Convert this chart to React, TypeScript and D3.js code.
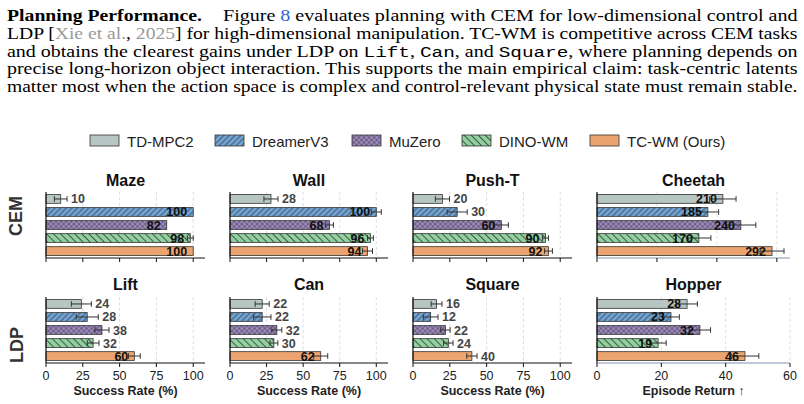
import React, { useRef } from "react";
import * as d3 from "d3";

// ---------- data ----------
const methods = ["TD-MPC2", "DreamerV3", "MuZero", "DINO-WM", "TC-WM (Ours)"];
const methodColors = ["#b7c6c2", "#74a9da", "#a692c4", "#92d0a0", "#eba46f"];
const methodHatch = ["none", "fwd", "cross", "back", "none"];

const cemTasks = ["Maze", "Wall", "Push-T", "Cheetah"];
const ldpTasks = ["Lift", "Can", "Square", "Hopper"];

const mazeValues = [10, 100, 82, 98, 100];
const mazeErrors = [4.3, 0, 0, 2, 0];
const wallValues = [28, 100, 68, 96, 94];
const wallErrors = [4.8, 3.4, 2.7, 2, 3.4];
const pushTValues = [20, 30, 60, 90, 92];
const pushTErrors = [4.8, 6.8, 4.8, 2, 2.7];
const cheetahValues = [210, 185, 240, 170, 292];
const cheetahErrors = [22, 18, 25, 20, 20];

const liftValues = [24, 28, 38, 32, 60];
const liftErrors = [6.8, 7.5, 4.8, 4, 4];
const canValues = [22, 22, 32, 30, 62];
const canErrors = [4.8, 6, 3.4, 2.7, 4.8];
const squareValues = [16, 12, 22, 24, 40];
const squareErrors = [3.7, 5, 3.2, 3.2, 3.5];
const hopperValues = [28, 23, 32, 19, 46];
const hopperErrors = [3.2, 2.6, 3.3, 2.5, 4.3];

const successTicks = [0, 25, 50, 75, 100];
const cheetahTicks = [0, 100, 200, 300];
const hopperTicks = [0, 20, 40, 60];
const successLabel = "Success Rate (%)";
const returnLabel = "Episode Return ↑";
const rowLabels = ["CEM", "LDP"];

// paragraph text (segments: [text, style])
type Seg = [string, string];
const paraLine1Head = "Planning Performance.";
const paraLines: Seg[][] = [
  [["Figure ", "n"], ["8", "link"], [" evaluates planning with CEM for low-dimensional control and", "n"]],
  [["LDP [", "n"], ["Xie et al.", "cite"], [", ", "n"], ["2025", "cite"], ["] for high-dimensional manipulation. TC-WM is competitive across CEM tasks", "n"]],
  [["and obtains the clearest gains under LDP on ", "n"], ["Lift", "mono"], [", ", "n"], ["Can", "mono"], [", and ", "n"], ["Square", "mono"], [", where planning depends on", "n"]],
  [["precise long-horizon object interaction. This supports the main empirical claim: task-centric latents", "n"]],
  [["matter most when the action space is complex and control-relevant physical state must remain stable.", "n"]],
];

// ---------- layout ----------
const colX = [46, 230, 413, 597];
const colW = [159, 158, 159, 193];
const rowTop = [192, 297];
const rowH = 66;
const titleY = [186, 289.5];
const legendX = [90, 215, 352, 462, 590];

const SANS = "'Liberation Sans', Arial, sans-serif";
const SERIF = "'Liberation Serif', 'Times New Roman', serif";
const MONO = "'Liberation Mono', monospace";

type Panel = {
  title: string;
  values: number[];
  errors: number[];
  max: number;
  ticks: number[];
  insideMin: number;
  xLabel: string;
  altSpine: boolean;
};

const panels: Panel[][] = [
  [
    { title: cemTasks[0], values: mazeValues, errors: mazeErrors, max: 108, ticks: successTicks, insideMin: 50, xLabel: successLabel, altSpine: false },
    { title: cemTasks[1], values: wallValues, errors: wallErrors, max: 108, ticks: successTicks, insideMin: 50, xLabel: successLabel, altSpine: false },
    { title: cemTasks[2], values: pushTValues, errors: pushTErrors, max: 108, ticks: successTicks, insideMin: 50, xLabel: successLabel, altSpine: false },
    { title: cemTasks[3], values: cheetahValues, errors: cheetahErrors, max: 322, ticks: cheetahTicks, insideMin: 0, xLabel: returnLabel, altSpine: true },
  ],
  [
    { title: ldpTasks[0], values: liftValues, errors: liftErrors, max: 108, ticks: successTicks, insideMin: 50, xLabel: successLabel, altSpine: false },
    { title: ldpTasks[1], values: canValues, errors: canErrors, max: 108, ticks: successTicks, insideMin: 50, xLabel: successLabel, altSpine: false },
    { title: ldpTasks[2], values: squareValues, errors: squareErrors, max: 108, ticks: successTicks, insideMin: 50, xLabel: successLabel, altSpine: false },
    { title: ldpTasks[3], values: hopperValues, errors: hopperErrors, max: 60, ticks: hopperTicks, insideMin: 0, xLabel: returnLabel, altSpine: true },
  ],
];

function segStyle(s: string): any {
  if (s === "link") return { fill: "#2b62d9" };
  if (s === "cite") return { fill: "#9a9a9a" };
  if (s === "mono") return { fontFamily: MONO, fontSize: 15.5 };
  return {};
}

function BarRect({ x, y, w, h, i }: { x: number; y: number; w: number; h: number; i: number }) {
  const hatch = methodHatch[i];
  return (
    <g>
      <rect x={x} y={y} width={Math.max(0, w)} height={h} fill={methodColors[i]} />
      {hatch !== "none" && <rect x={x} y={y} width={Math.max(0, w)} height={h} fill={`url(#hatch-${hatch})`} />}
      <rect x={x} y={y} width={Math.max(0, w)} height={h} fill="none" stroke="#333" strokeWidth={0.8} />
    </g>
  );
}

function PanelView({ p, r, c }: { p: Panel; r: number; c: number }) {
  const x0 = colX[c];
  const w = colW[c];
  const top = rowTop[r];
  const bottom = top + rowH;
  const x = d3.scaleLinear().domain([0, p.max]).range([x0, x0 + w]);
  const y = d3.scaleBand<string>().domain(methods).range([top, bottom]).paddingInner(0.33).paddingOuter(0.2);
  const bw = y.bandwidth();
  return (
    <g>
      <text x={x0 + w / 2} y={titleY[r]} textAnchor="middle" fontFamily={SANS} fontWeight="bold" fontSize={16} fill="#111">
        {p.title}
      </text>
      {p.ticks.filter((t) => t > 0).map((t) => (
        <line key={t} x1={x(t)} x2={x(t)} y1={top} y2={bottom} stroke="#d4d4d4" strokeWidth={0.8} strokeDasharray="3,2.5" />
      ))}
      {methods.map((m, i) => {
        const v = p.values[i];
        const e = p.errors[i];
        const yy = y(m)!;
        const cy = yy + bw / 2;
        const inside = v >= p.insideMin;
        const errEnd = x(v + e);
        return (
          <g key={m}>
            <BarRect x={x(0)} y={yy} w={x(v) - x(0)} h={bw} i={i} />
            {e > 0 && (
              <g stroke="#333" strokeWidth={1}>
                <line x1={x(v - e)} x2={x(v + e)} y1={cy} y2={cy} />
                <line x1={x(v - e)} x2={x(v - e)} y1={cy - 2.8} y2={cy + 2.8} />
                <line x1={x(v + e)} x2={x(v + e)} y1={cy - 2.8} y2={cy + 2.8} />
              </g>
            )}
            {inside ? (
              <text x={x(v) - 6} y={cy + 4.5} textAnchor="end" fontFamily={SANS} fontWeight="bold" fontSize={12.5} fill="#111">
                {v}
              </text>
            ) : (
              <text x={errEnd + 4} y={cy + 4.5} textAnchor="start" fontFamily={SANS} fontWeight="bold" fontSize={12.5} fill="#444">
                {v}
              </text>
            )}
          </g>
        );
      })}
      <line x1={x0} x2={x0} y1={top} y2={bottom} stroke="#111" strokeWidth={1.2} />
      <line x1={x0} x2={x0 + w} y1={bottom} y2={bottom} stroke={p.altSpine ? "#7f92ad" : "#111"} strokeWidth={1.2} />
      {p.ticks.map((t) => (
        <line key={t} x1={x(t)} x2={x(t)} y1={bottom} y2={bottom + 4} stroke="#111" strokeWidth={1} />
      ))}
      {r === 1 &&
        p.ticks.map((t) => (
          <text key={t} x={x(t)} y={380} textAnchor="middle" fontFamily={SANS} fontSize={12.5} fill="#222">
            {t}
          </text>
        ))}
      {r === 1 && (
        <text x={x0 + w / 2} y={395} textAnchor="middle" fontFamily={SANS} fontWeight="bold" fontSize={12.5} fill="#222">
          {p.xLabel}
        </text>
      )}
    </g>
  );
}

export default function App() {
  const ref = useRef<SVGSVGElement>(null);

  const lineStartX = [223, 7, 7, 7, 7];
  const lineEndX = 797.5;
  const baselines = [20.7, 38.6, 56.5, 74.4, 92.3];

  return (
    <svg
      ref={ref}
      width={804}
      height={404}
      style={{ position: "absolute", left: 0, top: 0, display: "block", background: "#fff" }}
    >
      <defs>
        <pattern id="hatch-fwd" patternUnits="userSpaceOnUse" width={4} height={4} patternTransform="rotate(45)">
          <line x1={2} y1={0} x2={2} y2={4} stroke="#2a2f38" strokeWidth={0.8} />
        </pattern>
        <pattern id="hatch-back" patternUnits="userSpaceOnUse" width={5} height={5} patternTransform="rotate(-45)">
          <line x1={2.5} y1={0} x2={2.5} y2={5} stroke="#2a3a2e" strokeWidth={0.8} />
        </pattern>
        <pattern id="hatch-cross" patternUnits="userSpaceOnUse" width={3.6} height={3.6} patternTransform="rotate(45)">
          <line x1={1.8} y1={0} x2={1.8} y2={3.6} stroke="#3f3550" strokeWidth={0.6} />
          <line x1={0} y1={1.8} x2={3.6} y2={1.8} stroke="#3f3550" strokeWidth={0.6} />
        </pattern>
      </defs>

      {/* paragraph */}
      <text
        x={7}
        y={baselines[0]}
        fontFamily={SERIF}
        fontSize={16}
        fontWeight="bold"
        fill="#000"
        textLength={195}
        lengthAdjust="spacingAndGlyphs"
      >
        {paraLine1Head}
      </text>
      {paraLines.map((segs, li) => (
        <text
          key={li}
          x={lineStartX[li]}
          y={baselines[li]}
          fontFamily={SERIF}
          fontSize={16}
          fill="#000"
          textLength={lineEndX - lineStartX[li]}
          lengthAdjust="spacingAndGlyphs"
          style={{ whiteSpace: "pre" }}
        >
          {segs.map(([t, s], si) => (
            <tspan key={si} {...segStyle(s)}>
              {t}
            </tspan>
          ))}
        </text>
      ))}

      {/* legend */}
      {methods.map((m, i) => (
        <g key={m}>
          <BarRect x={legendX[i]} y={135} w={29} h={11} i={i} />
          <text x={legendX[i] + 37} y={146.5} fontFamily={SANS} fontSize={15} fill="#222">
            {m}
          </text>
        </g>
      ))}

      {/* row labels */}
      <text transform="translate(21.5,216) rotate(-90)" textAnchor="middle" fontFamily={SANS} fontWeight="bold" fontSize={18} fill="#333">
        {rowLabels[0]}
      </text>
      <text transform="translate(22.5,345) rotate(-90)" textAnchor="middle" fontFamily={SANS} fontWeight="bold" fontSize={18} fill="#333">
        {rowLabels[1]}
      </text>

      {panels.map((row, r) => row.map((p, c) => <PanelView key={`${r}-${c}`} p={p} r={r} c={c} />))}
    </svg>
  );
}
